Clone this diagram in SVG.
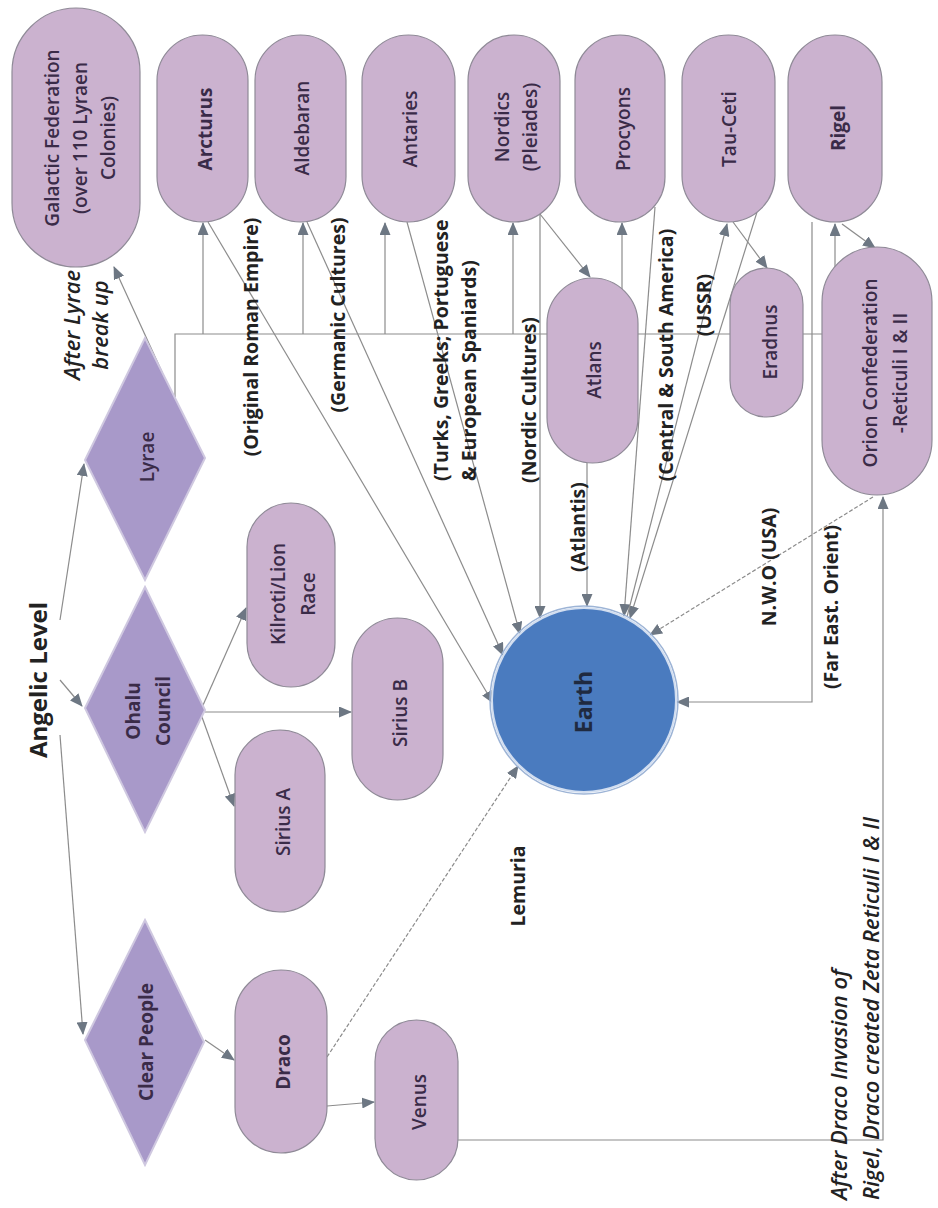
<svg xmlns="http://www.w3.org/2000/svg" width="938" height="1208" viewBox="0 0 938 1208">
<style>
.n{fill:#cbb2cf;stroke:#8f8a97;stroke-width:1.2}
.d{fill:#a899c9;stroke:#cfc8e0;stroke-width:2}
.t{font-family:"Open Sans","Liberation Sans",sans-serif;font-size:19px;font-weight:600;fill:#3a2b48;text-anchor:middle;dominant-baseline:central}
.b{font-weight:700}
.e{stroke:#8c8c8c;stroke-width:1.2;fill:none}
.a{marker-end:url(#ar)}
.ds{stroke-dasharray:4 2}
.l{font-family:"Open Sans","Liberation Sans",sans-serif;font-size:19.5px;font-weight:700;fill:#222;text-anchor:middle;dominant-baseline:central}
.s{text-anchor:start}
.i{font-style:italic;font-weight:600;font-size:22px}
</style>
<defs>
<marker id="ar" markerWidth="13" markerHeight="11" refX="12" refY="5.5" orient="auto" markerUnits="userSpaceOnUse">
<path d="M0,0 L13,5.5 L0,11 z" fill="#6d7783"/>
</marker>
</defs>
<rect width="938" height="1208" fill="#fff"/>

<g id="connectors">
<path class="e a" d="M60,620 L84,464"/>
<path class="e a" d="M60,680 L82,706"/>
<path class="e a" d="M60,735 L83,1034"/>
<path class="e a" d="M162,372 L114,267"/>
<path class="e" d="M175,397 V334 H730 M803,334 H822"/>
<path class="e a" d="M203,334 V223"/>
<path class="e a" d="M303,334 V223"/>
<path class="e a" d="M385,334 V223"/>
<path class="e a" d="M513,334 V223"/>
<path class="e a" d="M622,334 V223"/>
<path class="e a" d="M812,222 V702 H677"/>
<path class="e a" d="M835,267 V224"/>
<path class="e a" d="M842,224 L875,248"/>
<path class="e a" d="M540,214 L590,277"/>
<path class="e a" d="M540,214 V618"/>
<path class="e a" d="M587,463 V606"/>
<path class="e a" d="M208,222 L493,703"/>
<path class="e a" d="M307,222 L503,655"/>
<path class="e a" d="M407,222 L520,634"/>
<path class="e a" d="M655,207 L624,616"/>
<path class="e a" d="M757,212 L630,618"/>
<path class="e a" d="M627,617 L727,224"/>
<path class="e a" d="M733,222 L767,268"/>
<path class="e a" d="M200,712 L246,608"/>
<path class="e a" d="M198,706 L234,806"/>
<path class="e a" d="M205,712 H351"/>
<path class="e a" d="M205,1040 L234,1060"/>
<path class="e a" d="M327,1106 L374,1102"/>
<path class="e a ds" d="M327,1057 L518,766"/>
<path class="e a" d="M458,1140 H883 V497"/>
<path class="e a ds" d="M873,497 L650,635"/>
</g>

<g id="galactic"><rect class="n" x="12" y="8" width="128" height="259" rx="64"/><text class="t" transform="translate(80,138) rotate(-90)"><tspan x="0" y="-28">Galactic Federation</tspan><tspan x="0" y="0">(over 110 Lyraen</tspan><tspan x="0" y="28">Colonies)</tspan></text></g>
<g id="arcturus"><rect class="n" x="157" y="35" width="91" height="187" rx="45.5"/><text class="t b" transform="translate(205,129) rotate(-90)">Arcturus</text></g>
<g id="aldebaran"><rect class="n" x="255" y="35" width="91" height="187" rx="45.5"/><text class="t" transform="translate(302,128) rotate(-90)">Aldebaran</text></g>
<g id="antaries"><rect class="n" x="362" y="35" width="93" height="187" rx="46.5"/><text class="t" transform="translate(410,129) rotate(-90)">Antaries</text></g>
<g id="nordics"><rect class="n" x="468" y="35" width="92" height="187" rx="46"/><text class="t" transform="translate(516,127) rotate(-90)"><tspan x="0" y="-14">Nordics</tspan><tspan x="0" y="14">(Pleiades)</tspan></text></g>
<g id="procyons"><rect class="n" x="575" y="35" width="90" height="187" rx="45"/><text class="t" transform="translate(623,129) rotate(-90)">Procyons</text></g>
<g id="tauceti"><rect class="n" x="682" y="35" width="93" height="187" rx="46.5"/><text class="t" transform="translate(729,129) rotate(-90)">Tau-Ceti</text></g>
<g id="rigel"><rect class="n" x="788" y="35" width="94" height="187" rx="47"/><text class="t b" transform="translate(838,128) rotate(-90)">Rigel</text></g>
<g id="atlans"><rect class="n" x="547" y="278" width="91" height="185" rx="45.5"/><text class="t" transform="translate(594,370) rotate(-90)">Atlans</text></g>
<g id="eradnus"><rect class="n" x="730" y="268" width="73" height="149" rx="36.5"/><text class="t" transform="translate(770,342) rotate(-90)">Eradnus</text></g>
<g id="orion"><rect class="n" x="822" y="247" width="110" height="248" rx="55"/><text class="t" transform="translate(885,373) rotate(-90)"><tspan x="0" y="-15">Orion Confederation</tspan><tspan x="0" y="15">-Reticuli I &amp; II</tspan></text></g>

<g id="lyrae"><polygon class="d" points="145,338 205,458 145,580 85,460"/><text class="t" transform="translate(147,457) rotate(-90)">Lyrae</text></g>
<g id="ohalu"><polygon class="d" points="145,587 205,710 145,832 85,708"/><text class="t b" transform="translate(148,711) rotate(-90)"><tspan x="0" y="-15">Ohalu</tspan><tspan x="0" y="15">Council</tspan></text></g>
<g id="clearpeople"><polygon class="d" points="145,920 204,1042 145,1165 85,1040"/><text class="t b" transform="translate(146,1042) rotate(-90)">Clear People</text></g>

<g id="kilroti"><rect class="n" x="247" y="503" width="88" height="184" rx="44"/><text class="t" transform="translate(293,594) rotate(-90)"><tspan x="0" y="-15">Kilroti/Lion</tspan><tspan x="0" y="15">Race</tspan></text></g>
<g id="siriusa"><rect class="n" x="235" y="730" width="90" height="182" rx="45"/><text class="t" transform="translate(283,822) rotate(-90)">Sirius A</text></g>
<g id="siriusb"><rect class="n" x="352" y="618" width="91" height="182" rx="45.5"/><text class="t" transform="translate(400,713) rotate(-90)">Sirius B</text></g>
<g id="draco"><rect class="n" x="235" y="970" width="92" height="183" rx="46"/><text class="t b" transform="translate(283,1062) rotate(-90)">Draco</text></g>
<g id="venus"><rect class="n" x="375" y="1020" width="83" height="160" rx="41.5"/><text class="t" transform="translate(419,1102) rotate(-90)">Venus</text></g>
<g id="earth"><circle cx="584" cy="700" r="94" fill="none" stroke="#9db4d6" stroke-width="1.5"/><circle cx="584" cy="700" r="92" fill="#4a7bbf" stroke="#d2def0" stroke-width="2"/><text class="t b" style="font-size:23px;fill:#1f2a40" transform="translate(583,702) rotate(-90)">Earth</text></g>

<g id="labels">
<text class="l" style="font-size:24px" transform="translate(37,680) rotate(-90)">Angelic Level</text>
<text class="l i" transform="translate(85,325) rotate(-90)"><tspan x="0" y="-14">After Lyrae</tspan><tspan x="0" y="14">break up</tspan></text>
<text class="l" transform="translate(250,337) rotate(-90)">(Original Roman Empire)</text>
<text class="l" transform="translate(337,315) rotate(-90)">(Germanic Cultures)</text>
<text class="l s" transform="translate(454,481) rotate(-90)"><tspan x="0" y="-14">(Turks, Greeks; Portuguese</tspan><tspan x="0" y="14">&amp; European Spaniards)</tspan></text>
<text class="l" transform="translate(528,400) rotate(-90)">(Nordic Cultures)</text>
<text class="l" transform="translate(577,527) rotate(-90)">(Atlantis)</text>
<text class="l" transform="translate(665,355) rotate(-90)">(Central &amp; South America)</text>
<text class="l" transform="translate(703,305) rotate(-90)">(USSR)</text>
<text class="l" transform="translate(768,567) rotate(-90)">N.W.O (USA)</text>
<text class="l" transform="translate(830,607) rotate(-90)">(Far East. Orient)</text>
<text class="l" transform="translate(517,886) rotate(-90)">Lemuria</text>
<text class="l i s" transform="translate(854,1200) rotate(-90)"><tspan x="0" y="-16">After Draco Invasion of</tspan><tspan x="0" y="16">Rigel, Draco created Zeta Reticuli I &amp; II</tspan></text>
</g>
</svg>
